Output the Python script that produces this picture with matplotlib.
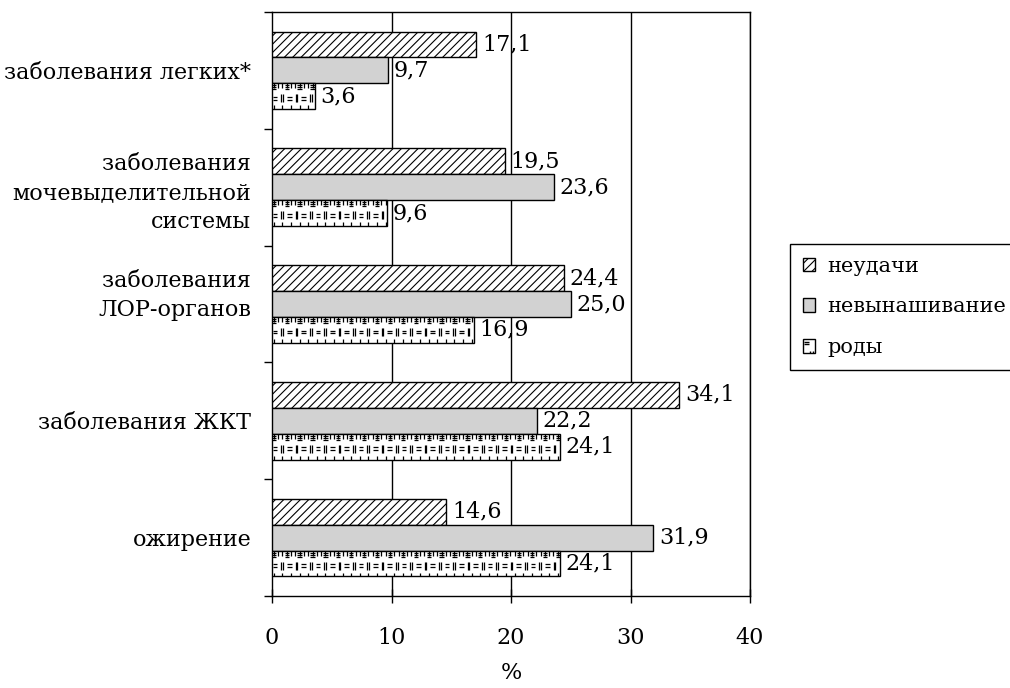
import numpy as np
import matplotlib
matplotlib.use("Agg")
import matplotlib.pyplot as plt
from matplotlib.patches import Rectangle, Patch
from matplotlib.collections import LineCollection
from matplotlib.legend_handler import HandlerBase

plt.rcParams['font.family'] = ['DejaVu Serif']
plt.rcParams['font.size'] = 16
plt.rcParams['hatch.linewidth'] = 0.8

# категории сверху вниз
categories = ["заболевания легких*",
              "заболевания\nмочевыделительной\nсистемы",
              "заболевания\nЛОР-органов\n",
              "заболевания ЖКТ",
              "ожирение"]
neudachi = [17.1, 19.5, 24.4, 34.1, 14.6]
nevynash = [9.7, 23.6, 25.0, 22.2, 31.9]
rody = [3.6, 9.6, 16.9, 24.1, 24.1]
series_names = ["неудачи", "невынашивание", "роды"]
xticks = [0, 10, 20, 30, 40]

GRAY = "#d2d2d2"
bh = 0.222


def rody_texture(ax, bar):
    # узор "= ‖ = ‖" с насечками по краям, обрезанный по прямоугольнику
    x0, y0 = bar.get_x(), bar.get_y()
    w, h = bar.get_width(), bar.get_height()
    py = h / 26.0          # примерно один пиксель по вертикали
    segs = []
    k = 0
    x = x0 + 0.15
    while x < x0 + w:
        # верхний ряд: короткие вертикальные насечки
        segs.append([(x, y0 + h), (x, y0 + h - 5 * py)])
        if k % 3 == 0:
            for dy in (2, 4, 6):
                segs.append([(x - 0.18, y0 + h - dy * py), (x + 0.18, y0 + h - dy * py)])
        # нижний ряд
        if k % 2 == 0:
            segs.append([(x, y0), (x, y0 + 4 * py)])
        k += 1
        x += 0.36
    # средний ряд "= ‖"
    x = x0 + 0.25
    while x < x0 + w:
        ym = y0 + h * 0.42
        segs.append([(x - 0.2, ym + 1.5 * py), (x + 0.2, ym + 1.5 * py)])
        segs.append([(x - 0.2, ym - 1.5 * py), (x + 0.2, ym - 1.5 * py)])
        for dx in (-0.07, 0.07):
            segs.append([(x + 0.6 + dx, ym - 4 * py), (x + 0.6 + dx, ym + 4 * py)])
        x += 1.2
    lc = LineCollection(segs, colors="black", linewidths=0.9, zorder=3.5)
    ax.add_collection(lc)
    lc.set_clip_path(bar)


class RodyHandler(HandlerBase):
    def create_artists(self, legend, orig_handle, xdescent, ydescent,
                       width, height, fontsize, trans):
        r = Rectangle((-xdescent, -ydescent), width, height, facecolor="white",
                      edgecolor="black", lw=1.0, transform=trans)
        lines = []
        for f in (0.8, 0.66):
            lines.append([(-xdescent + width * 0.15, -ydescent + height * f),
                          (-xdescent + width * 0.55, -ydescent + height * f)])
        for fx in (0.6, 0.8):
            lines.append([(-xdescent + width * fx, -ydescent),
                          (-xdescent + width * fx, -ydescent + height * 0.15)])
        lc = LineCollection(lines, colors="black", linewidths=1.0, transform=trans)
        return [r, lc]


fig = plt.figure(figsize=(10.1, 6.88), dpi=100)
ax = fig.add_axes([272 / 1010, 1 - 596 / 688, 478 / 1010, 584 / 688])

y = np.arange(len(categories))[::-1]

for xv in xticks[1:]:
    ax.axvline(xv, color="black", lw=1.0, zorder=1)

b1 = ax.barh(y + bh, neudachi, height=bh, facecolor="white", edgecolor="black",
             hatch="////", lw=1.0, zorder=3)
b2 = ax.barh(y, nevynash, height=bh, facecolor=GRAY, edgecolor="black",
             lw=1.0, zorder=3)
b3 = ax.barh(y - bh, rody, height=bh, facecolor="white", edgecolor="black",
             lw=1.0, zorder=3)
for bar in b3:
    rody_texture(ax, bar)

for bars, vals in ((b1, neudachi), (b2, nevynash), (b3, rody)):
    for bar, v in zip(bars, vals):
        ax.annotate(f"{v:.1f}".replace(".", ","),
                    (v, bar.get_y() + bar.get_height() / 2),
                    xytext=(4, 0), textcoords="offset points",
                    ha="left", va="center", fontsize=16, zorder=5)

ax.set_xlim(0, 40)
ax.set_ylim(-0.5, 4.5)
ax.set_xticks(xticks)
ax.set_xticklabels([str(t) for t in xticks])
ax.tick_params(axis="x", direction="inout", length=10, width=1.0, pad=17)
ax.set_yticks(np.arange(-0.5, 5, 1.0))
ax.set_yticklabels([])
ax.set_yticks(y, minor=True)
ax.set_yticklabels(categories, minor=True, ha="right", multialignment="right",
                   linespacing=1.42)
ax.tick_params(axis="y", which="major", direction="out", length=6, width=1.0)
ax.tick_params(axis="y", which="minor", length=0, pad=15)
for s in ax.spines.values():
    s.set_linewidth(1.0)
ax.set_xlabel("%", labelpad=10)

handles = [Patch(facecolor="white", edgecolor="black", hatch="////", lw=1.0),
           Patch(facecolor=GRAY, edgecolor="black", lw=1.0),
           Patch(facecolor="white", edgecolor="black", lw=1.0)]
leg = fig.legend(handles, series_names, loc="upper left",
                 bbox_to_anchor=(790 / 1010, 1 - 244 / 688),
                 handler_map={handles[2]: RodyHandler()},
                 prop={"size": 15},
                 handlelength=0.6, handleheight=0.6, handletextpad=0.6,
                 labelspacing=1.05, borderpad=0.6, borderaxespad=0,
                 fancybox=False, edgecolor="black", framealpha=1)
leg.get_frame().set_linewidth(1.0)

fig.savefig("out.png", dpi=100)
